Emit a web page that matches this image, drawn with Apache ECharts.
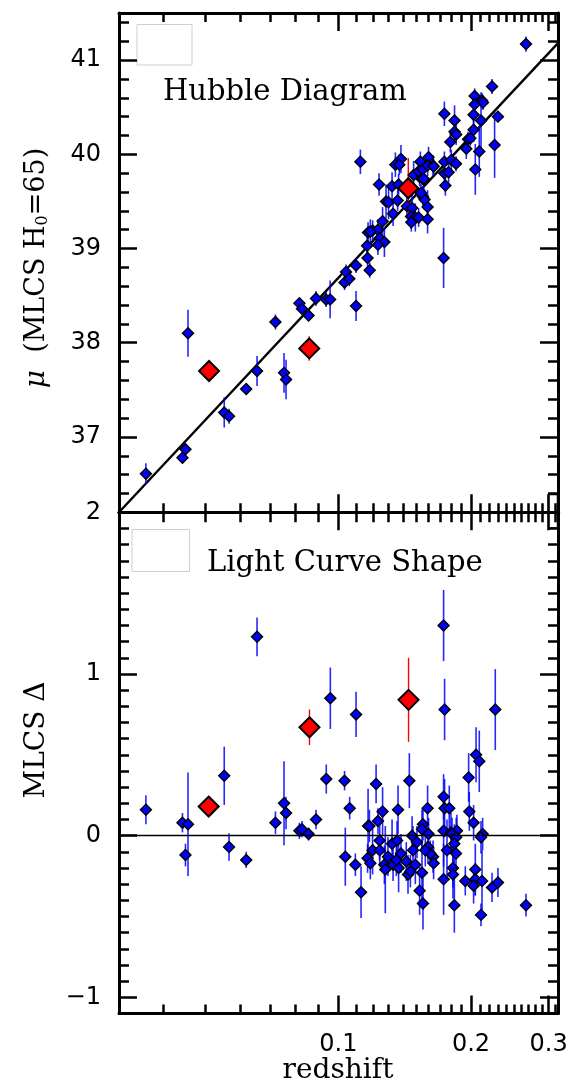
<!DOCTYPE html>
<html>
<head>
<meta charset="utf-8">
<script src="https://cdn.jsdelivr.net/npm/echarts@6/dist/echarts.min.js"></script>
<style>
  html, body { margin: 0; padding: 0; background: #fff; }
  #chart { width: 572px; height: 1087px; }
</style>
</head>
<body>
<div id="chart"></div>
<script>
// redshift ticks (log axis)
const xMajorTicks = [0.1, 0.2, 0.3]
const xMinorTicks = [0.04, 0.05, 0.06, 0.07, 0.08, 0.09,
  0.11, 0.12, 0.13, 0.14, 0.15, 0.16, 0.17, 0.18, 0.19,
  0.21, 0.22, 0.23, 0.24, 0.25, 0.26, 0.27, 0.28, 0.29, 0.31]
const xLabels = [0.1, 0.2, 0.3]

const muMajorTicks = [37, 38, 39, 40, 41]
const deltaMajorTicks = [-1, 0, 1, 2]
const deltaLabels = [-1, 0, 1, 2]

// Hubble diagram: blue points
const zTop = [0.0366, 0.0443, 0.0450, 0.0456, 0.0551, 0.0565, 0.0618, 0.0654, 0.0720, 0.0753,
  0.0761, 0.0816, 0.0827, 0.0856, 0.0890, 0.0938, 0.0958, 0.1033, 0.1041, 0.1059,
  0.1097, 0.1097, 0.1165, 0.1178, 0.1733, 0.1122, 0.1347, 0.1387, 0.1375, 0.1237,
  0.1324, 0.1370, 0.1283, 0.1300, 0.1363, 0.1331, 0.1260, 0.1431, 0.1470, 0.1462,
  0.1495, 0.1521, 0.1464, 0.1594, 0.1594, 0.1556, 0.1569, 0.1540, 0.1529, 0.1482,
  0.1521, 0.1562, 0.1535, 0.1602, 0.1553, 0.1594, 0.1640, 0.1168, 0.1196, 0.1230,
  0.1182, 0.1241, 0.1272, 0.1162, 0.1230, 0.2665, 0.2232, 0.2038, 0.2118, 0.2129,
  0.2038, 0.2302, 0.1740, 0.1835, 0.2107, 0.2027, 0.1835, 0.1851, 0.1795, 0.2027,
  0.1969, 0.1993, 0.1951, 0.2262, 0.2088, 0.2045, 0.1740, 0.1804, 0.1645, 0.1740,
  0.1779, 0.1749, 0.1562, 0.1849]
const muTop = [36.61, 36.78, 36.87, 38.10, 37.26, 37.22, 37.51, 37.70, 38.22, 37.68,
  37.61, 38.42, 38.36, 38.29, 38.47, 38.46, 38.46, 38.64, 38.75, 38.68,
  38.82, 38.39, 38.90, 38.77, 38.90, 39.92, 39.89, 39.95, 39.89, 39.68,
  39.66, 39.68, 39.50, 39.49, 39.51, 39.37, 39.29, 39.45, 39.43, 39.34,
  39.33, 39.33, 39.28, 39.44, 39.31, 39.55, 39.52, 39.59, 39.76, 39.78,
  39.82, 39.73, 39.92, 39.97, 39.84, 39.88, 39.88, 39.17, 39.19, 39.20,
  39.18, 39.11, 39.07, 39.03, 39.04, 41.17, 40.72, 40.62, 40.57, 40.55,
  40.53, 40.40, 40.43, 40.36, 40.36, 40.42, 40.24, 40.21, 40.13, 40.26,
  40.16, 40.17, 40.06, 40.10, 40.03, 39.84, 39.92, 39.94, 39.87, 39.80,
  39.81, 39.67, 39.74, 39.90]
const muErrTop = [0.11, 0.06, 0.06, 0.25, 0.16, 0.08, 0.04, 0.16, 0.08, 0.21,
  0.21, 0.05, 0.05, 0.05, 0.08, 0.08, 0.20, 0.08, 0.08, 0.08,
  0.08, 0.16, 0.11, 0.08, 0.32, 0.13, 0.13, 0.15, 0.11, 0.12,
  0.15, 0.11, 0.18, 0.18, 0.11, 0.13, 0.15, 0.13, 0.15, 0.13,
  0.15, 0.10, 0.10, 0.18, 0.15, 0.11, 0.11, 0.10, 0.10, 0.15,
  0.11, 0.11, 0.11, 0.11, 0.08, 0.11, 0.11, 0.11, 0.11, 0.11,
  0.13, 0.11, 0.16, 0.11, 0.11, 0.08, 0.08, 0.08, 0.08, 0.08,
  0.08, 0.06, 0.13, 0.16, 0.30, 0.11, 0.11, 0.11, 0.11, 0.13,
  0.08, 0.08, 0.11, 0.35, 0.27, 0.27, 0.11, 0.11, 0.08, 0.11,
  0.11, 0.11, 0.08, 0.08]

// Hubble diagram: red points
const zRedTop = [0.0509, 0.0859, 0.1441]
const muRedTop = [37.70, 37.94, 39.64]
const muErrRedTop = [0.05, 0.13, 0.32]

// reference Hubble line (end points)
const lineZ = [0.0318, 0.315]
const lineMu = [36.2, 41.18]

// light curve shape: blue points
const zBot = [0.0366, 0.0443, 0.0456, 0.0450, 0.0551, 0.0565, 0.0618, 0.0654, 0.0720, 0.0753,
  0.0761, 0.0816, 0.0827, 0.0856, 0.0890, 0.0959, 0.1097, 0.1733, 0.1742, 0.2270,
  0.0939, 0.1033, 0.1218, 0.1449, 0.1975, 0.2053, 0.2088, 0.1733, 0.1061, 0.1260,
  0.1366, 0.1230, 0.1168, 0.1176, 0.1037, 0.1093, 0.1126, 0.1165, 0.1182, 0.1196,
  0.1241, 0.1241, 0.1272, 0.1278, 0.1296, 0.1324, 0.1359, 0.1331, 0.1370, 0.1387,
  0.1354, 0.1426, 0.1439, 0.1477, 0.1470, 0.1508, 0.1495, 0.1529, 0.1457, 0.1594,
  0.1742, 0.1785, 0.1982, 0.2027, 0.1556, 0.1548, 0.1733, 0.1801, 0.1858, 0.1811,
  0.1851, 0.2125, 0.2107, 0.1602, 0.1597, 0.1764, 0.1833, 0.1849, 0.1640, 0.1617,
  0.1575, 0.1645, 0.1548, 0.1733, 0.1820, 0.1820, 0.2045, 0.2045, 0.1941, 0.2027,
  0.2118, 0.2232, 0.2302, 0.1556, 0.1833, 0.2107, 0.2665]
const deltaBot = [0.16, 0.08, 0.07, -0.12, 0.37, -0.07, -0.15, 1.23, 0.08, 0.20,
  0.14, 0.03, 0.04, 0.01, 0.10, 0.85, 0.75, 1.30, 0.78, 0.78,
  0.35, 0.34, 0.32, 0.34, 0.36, 0.50, 0.46, 0.24, 0.17, 0.15,
  0.16, 0.09, 0.06, 0.06, -0.13, -0.18, -0.35, -0.14, -0.17, -0.09,
  -0.03, -0.09, -0.18, -0.21, -0.13, -0.05, -0.03, -0.18, -0.20, -0.11,
  -0.15, -0.16, -0.24, -0.09, 0.00, -0.04, -0.18, -0.34, -0.22, 0.17,
  0.17, 0.17, 0.15, 0.08, 0.07, 0.04, 0.03, 0.02, 0.03, 0.01,
  -0.01, 0.01, -0.01, 0.01, -0.07, -0.09, -0.05, -0.11, -0.13, -0.11,
  -0.09, -0.17, -0.23, -0.27, -0.20, -0.24, -0.21, -0.27, -0.28, -0.31,
  -0.28, -0.32, -0.29, -0.42, -0.43, -0.49, -0.43]
const deltaErrBot = [0.09, 0.06, 0.32, 0.07, 0.18, 0.085, 0.05, 0.12, 0.07, 0.26,
  0.10, 0.05, 0.05, 0.04, 0.06, 0.19, 0.14, 0.22, 0.19, 0.25,
  0.09, 0.06, 0.12, 0.17, 0.15, 0.17, 0.19, 0.14, 0.07, 0.15,
  0.15, 0.08, 0.23, 0.10, 0.18, 0.07, 0.16, 0.09, 0.10, 0.15,
  0.12, 0.10, 0.12, 0.27, 0.12, 0.15, 0.12, 0.10, 0.15, 0.12,
  0.10, 0.12, 0.12, 0.15, 0.12, 0.10, 0.12, 0.15, 0.10, 0.14,
  0.18, 0.14, 0.12, 0.11, 0.10, 0.12, 0.22, 0.12, 0.10, 0.10,
  0.12, 0.10, 0.10, 0.10, 0.10, 0.19, 0.12, 0.10, 0.10, 0.08,
  0.10, 0.10, 0.19, 0.22, 0.12, 0.15, 0.16, 0.10, 0.09, 0.11,
  0.19, 0.09, 0.09, 0.16, 0.17, 0.07, 0.07]

// light curve shape: red points
const zRedBot = [0.0508, 0.0860, 0.1443]
const deltaRedBot = [0.18, 0.67, 0.84]
const deltaErrRedBot = [0.05, 0.11, 0.26]

const X_MIN = 0.0318, X_MAX = 0.315
const MU_MIN = 36.2, MU_MAX = 41.5
const D_MIN = -1.1, D_MAX = 2.0

function minorTicks (min, max, step, major) {
  const out = []
  for (let v = Math.ceil(min / step) * step; v <= max + 1e-9; v += step) {
    const r = Math.round(v * 100) / 100
    if (major.indexOf(r) < 0 && r > min && r < max) out.push(r)
  }
  return out
}

const BLACK = '#000'
const labelFont = { fontSize: 24, fontFamily: 'DejaVu Sans', color: BLACK }

function xAxisDef (gridIndex, position, ticks, len, withLine, labels) {
  return {
    type: 'log', logBase: 10, gridIndex, position, min: X_MIN, max: X_MAX,
    axisLine: { show: withLine, onZero: false, lineStyle: { color: BLACK, width: 3 } },
    axisTick: { show: true, inside: true, length: len, customValues: ticks, lineStyle: { color: BLACK, width: 2.5 } },
    axisLabel: labels
      ? Object.assign({ show: true, customValues: labels, margin: 19, formatter: v => String(+(+v).toPrecision(3)) }, labelFont)
      : { show: false },
    splitLine: { show: false },
    minorTick: { show: false }
  }
}

function yAxisDef (gridIndex, position, min, max, ticks, len, withLine, labels) {
  return {
    type: 'value', gridIndex, position, min, max,
    axisLine: { show: withLine, onZero: false, lineStyle: { color: BLACK, width: 3 } },
    axisTick: { show: true, inside: true, length: len, customValues: ticks, lineStyle: { color: BLACK, width: 2.5 } },
    axisLabel: labels
      ? Object.assign({ show: true, customValues: labels, margin: 18, formatter: v => (v < 0 ? '\u2212' + Math.abs(v) : String(Math.round(v * 10) / 10)) }, labelFont)
      : { show: false },
    splitLine: { show: false }
  }
}

const muMinor = minorTicks(MU_MIN, MU_MAX, 0.2, muMajorTicks)
const dMinor = minorTicks(D_MIN, D_MAX, 0.1, deltaMajorTicks)

function errBars (color, width) {
  return function (params, api) {
    const x = api.value(0), y = api.value(1), e = api.value(2)
    const p1 = api.coord([x, y - e])
    const p2 = api.coord([x, y + e])
    return {
      type: 'line',
      shape: { x1: p1[0], y1: p1[1], x2: p2[0], y2: p2[1] },
      style: { stroke: color, lineWidth: width }
    }
  }
}

const zip3 = (a, b, c) => a.map((v, i) => [v, b[i], c[i]])
const zip2 = (a, b) => a.map((v, i) => [v, b[i]])

function panelSeries (xi, yi, zb, vb, eb, zr, vr, er) {
  return [
    {
      type: 'custom', xAxisIndex: xi, yAxisIndex: yi, z: 3,
      renderItem: errBars('rgba(0,0,255,0.85)', 1.6),
      encode: { x: 0, y: 1 }, data: zip3(zb, vb, eb), silent: true
    },
    {
      type: 'custom', xAxisIndex: xi, yAxisIndex: yi, z: 3,
      renderItem: errBars('#ff0000', 1.4),
      encode: { x: 0, y: 1 }, data: zip3(zr, vr, er), silent: true
    },
    {
      type: 'scatter', xAxisIndex: xi, yAxisIndex: yi, z: 4,
      symbol: 'diamond', symbolSize: 11,
      itemStyle: { color: '#0000ff', borderColor: BLACK, borderWidth: 1.4, opacity: 1 },
      data: zip2(zb, vb), silent: true
    },
    {
      type: 'scatter', xAxisIndex: xi, yAxisIndex: yi, z: 5,
      symbol: 'diamond', symbolSize: 20,
      itemStyle: { color: '#ff0000', borderColor: BLACK, borderWidth: 2, opacity: 1 },
      data: zip2(zr, vr), silent: true
    }
  ]
}

const chart = echarts.init(document.getElementById('chart'), null, { renderer: 'canvas' })

const option = {
  animation: false,
  backgroundColor: '#fff',
  grid: [
    { left: 119, width: 439, top: 13, height: 499.3 },
    { left: 119, width: 439, top: 512.3, height: 501.2 }
  ],
  xAxis: [
    xAxisDef(0, 'bottom', xMajorTicks, 18, true, null),
    xAxisDef(0, 'bottom', xMinorTicks, 9, false, null),
    xAxisDef(0, 'top', xMajorTicks, 18, true, null),
    xAxisDef(0, 'top', xMinorTicks, 9, false, null),
    xAxisDef(1, 'bottom', xMajorTicks, 18, true, xLabels),
    xAxisDef(1, 'bottom', xMinorTicks, 9, false, null),
    xAxisDef(1, 'top', xMajorTicks, 18, true, null),
    xAxisDef(1, 'top', xMinorTicks, 10, false, null)
  ],
  yAxis: [
    yAxisDef(0, 'left', MU_MIN, MU_MAX, muMajorTicks, 18, true, muMajorTicks),
    yAxisDef(0, 'left', MU_MIN, MU_MAX, muMinor, 10, false, null),
    yAxisDef(0, 'right', MU_MIN, MU_MAX, muMajorTicks, 18, true, null),
    yAxisDef(0, 'right', MU_MIN, MU_MAX, muMinor, 10, false, null),
    yAxisDef(1, 'left', D_MIN, D_MAX, deltaMajorTicks, 18, true, deltaLabels),
    yAxisDef(1, 'left', D_MIN, D_MAX, dMinor, 10, false, null),
    yAxisDef(1, 'right', D_MIN, D_MAX, deltaMajorTicks, 18, true, null),
    yAxisDef(1, 'right', D_MIN, D_MAX, dMinor, 10, false, null)
  ],
  series: [
    {
      type: 'line', xAxisIndex: 0, yAxisIndex: 0, z: 2,
      data: zip2(lineZ, lineMu), symbol: 'none', silent: true,
      lineStyle: { color: BLACK, width: 2.4 }
    },
    ...panelSeries(0, 0, zTop, muTop, muErrTop, zRedTop, muRedTop, muErrRedTop),
    {
      type: 'line', xAxisIndex: 4, yAxisIndex: 4, z: 2, data: [], silent: true,
      markLine: {
        silent: true, symbol: 'none', label: { show: false },
        lineStyle: { color: BLACK, width: 1.4, type: 'solid' },
        data: [{ yAxis: 0 }]
      }
    },
    ...panelSeries(4, 4, zBot, deltaBot, deltaErrBot, zRedBot, deltaRedBot, deltaErrRedBot)
  ],
  graphic: [
    { type: 'rect', shape: { x: 137, y: 24.5, width: 55, height: 40.5 }, style: { fill: 'none', stroke: '#cfcfcf', lineWidth: 1 } },
    { type: 'rect', shape: { x: 132, y: 529.5, width: 57.5, height: 42 }, style: { fill: 'none', stroke: '#cfcfcf', lineWidth: 1 } },
    { type: 'rect', shape: { x: 548.5, y: 494.5, width: 9, height: 33.5 }, style: { fill: 'none', stroke: BLACK, lineWidth: 1.5 } },
    {
      type: 'text', x: 163, y: 92,
      style: { text: 'Hubble Diagram', font: '29px "DejaVu Serif"', fill: BLACK, textAlign: 'left', textVerticalAlign: 'middle' }
    },
    {
      type: 'text', x: 207, y: 563,
      style: { text: 'Light Curve Shape', font: '29px "DejaVu Serif"', fill: BLACK, textAlign: 'left', textVerticalAlign: 'middle' }
    },
    {
      type: 'text', x: 37, y: 268, rotation: Math.PI / 2,
      style: {
        text: '{m|\u03bc}  (MLCS H{s|0}=65)',
        font: '27px "DejaVu Serif"', fill: BLACK, textAlign: 'center', textVerticalAlign: 'middle',
        rich: {
          m: { fontFamily: 'DejaVu Serif', fontStyle: 'italic', fontSize: 28, fill: BLACK },
          s: { fontFamily: 'DejaVu Serif', fontSize: 16, fill: BLACK, verticalAlign: 'bottom' }
        }
      }
    },
    {
      type: 'text', x: 37, y: 740, rotation: Math.PI / 2,
      style: { text: 'MLCS \u0394', font: '28px "DejaVu Serif"', fill: BLACK, textAlign: 'center', textVerticalAlign: 'middle' }
    },
    {
      type: 'text', x: 338, y: 1071,
      style: { text: 'redshift', font: '28px "DejaVu Serif"', fill: BLACK, textAlign: 'center', textVerticalAlign: 'middle' }
    }
  ]
}

chart.setOption(option)
</script>
</body>
</html>
